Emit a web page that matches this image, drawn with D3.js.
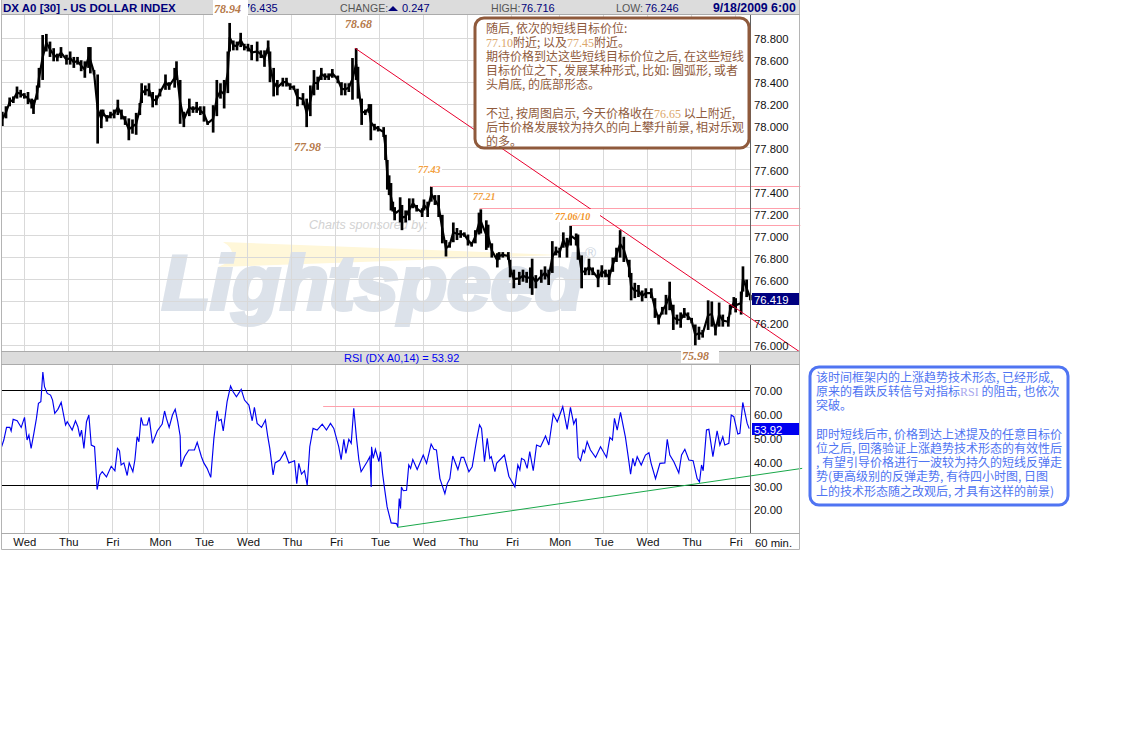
<!DOCTYPE html>
<html><head><meta charset="utf-8">
<script src="https://cdn.jsdelivr.net/npm/d3@7/dist/d3.min.js"></script>
<style>
html,body{margin:0;padding:0;background:#fff}
svg{display:block;font-family:"Liberation Sans",Arial,sans-serif}
</style></head><body><svg id="c" width="1131" height="738"></svg>
<script>
// ---------- DATA ----------
const barHours=[1,3,5,7,9,11,13,15,17,18,20,21,23,25,27,29,31,33,36,38,40,42,44,46,48,49,51,53,55,56,58,60,62,64,66,68,70,72,74,76,77,79,81,83,85,87,90,92,95,96,98,100,103,105,107,109,111,113,116,118,120,122,124,125,127,129,131,133,135,137,140,142,144,146,147,149,151,154,156,158,160,162,165,167,169,171,173,175,177,179,181,184,186,188,190,192,194,195,197,199,201,202,204,206,209,210,211,212,213,214,215,218,219,221,223,225,227,230,231,233,235,237,239,241,243,245,247,249,251,253,255,257,259,261,262,265,266,268,271,272,274,277,278,280,283,285,287,289,290,292,295,297,299,301,303,305,307,309,311,314,315,317,319,321,323,326,328,330,332,334,336,338,340,343,344,346,348,350,352,355,357,359,361,363,365,367,369,371,373,375,377,379,381,383,386,388,390,392,394,397,398,400,401,404,405,407,409];
const barHigh=[78.13,78.18,78.26,78.27,78.36,78.33,78.30,78.31,78.25,78.24,78.37,78.53,78.83,78.84,78.77,78.71,78.66,78.72,78.65,78.68,78.63,78.63,78.60,78.59,78.72,78.72,78.51,78.47,78.15,78.15,78.10,78.13,78.15,78.24,78.15,78.09,78.07,78.06,78.12,78.21,78.39,78.37,78.39,78.31,78.28,78.34,78.47,78.40,78.53,78.59,78.42,78.13,78.25,78.18,78.22,78.18,78.18,78.04,78.19,78.42,78.39,78.42,78.68,78.94,78.78,78.77,78.85,78.75,78.75,78.74,78.77,78.69,78.69,78.78,78.68,78.53,78.42,78.44,78.44,78.39,78.37,78.34,78.30,78.25,78.37,78.51,78.45,78.53,78.48,78.48,78.52,78.46,78.40,78.39,78.39,78.62,78.71,78.54,78.25,78.15,78.20,78.20,78.02,78.00,77.99,77.92,77.69,77.55,77.48,77.31,77.26,77.35,77.28,77.23,77.34,77.34,77.28,77.25,77.33,77.31,77.45,77.37,77.37,77.19,76.96,76.94,77.12,77.07,77.05,77.03,77.01,76.94,77.05,77.21,77.24,77.14,77.10,76.93,76.84,76.85,76.85,76.85,76.78,76.69,76.67,76.69,76.67,76.71,76.79,76.64,76.69,76.72,76.69,76.95,76.90,76.89,77.03,76.98,77.09,77.02,77.01,76.82,76.71,76.79,76.71,76.69,76.73,76.69,76.69,76.80,76.89,77.05,76.99,76.78,76.66,76.57,76.55,76.50,76.52,76.52,76.43,76.28,76.35,76.46,76.58,76.37,76.28,76.30,76.34,76.30,76.25,76.19,76.17,76.14,76.41,76.40,76.19,76.39,76.28,76.26,76.37,76.44,76.43,76.49,76.72,76.60,76.46];
const barLow=[78.00,78.07,78.18,78.21,78.25,78.26,78.25,78.20,78.16,78.11,78.24,78.35,78.42,78.68,78.63,78.59,78.59,78.62,78.56,78.56,78.53,78.56,78.50,78.44,78.53,78.48,78.47,77.84,77.98,78.09,78.04,78.07,78.07,78.10,78.06,78.01,77.87,77.93,77.92,78.10,78.21,78.28,78.27,78.17,78.19,78.27,78.33,78.33,78.35,78.42,78.02,77.99,78.09,78.12,78.12,78.10,78.04,78.01,77.94,78.09,78.25,78.16,78.30,78.68,78.69,78.69,78.72,78.69,78.68,78.60,78.59,78.62,78.54,78.66,78.40,78.27,78.28,78.36,78.36,78.33,78.33,78.18,78.19,77.99,78.09,78.28,78.33,78.42,78.42,78.42,78.44,78.39,78.28,78.28,78.31,78.24,78.42,78.25,78.01,78.10,78.12,77.87,77.96,77.95,77.90,77.69,77.42,77.37,77.23,77.22,77.14,77.12,77.05,77.12,77.14,77.25,77.22,77.17,77.23,77.17,77.31,77.28,77.17,76.93,76.81,76.89,76.94,76.96,76.98,76.99,76.91,76.90,76.93,77.01,77.02,76.87,76.89,76.80,76.71,76.78,76.80,76.78,76.62,76.52,76.55,76.58,76.57,76.52,76.46,76.52,76.57,76.60,76.55,76.66,76.82,76.80,76.89,76.80,76.91,76.91,76.78,76.52,76.64,76.64,76.64,76.53,76.62,76.62,76.55,76.67,76.76,76.80,76.76,76.62,76.41,76.43,76.44,76.40,76.43,76.43,76.25,76.19,76.28,76.28,76.32,76.14,76.19,76.16,76.25,76.23,76.20,76.00,76.05,76.07,76.14,76.17,76.09,76.17,76.17,76.17,76.28,76.34,76.30,76.28,76.49,76.44,76.41];

const rsiHours=[0.5,1.8,3.3,5.1,5.8,6.9,9.1,11.3,13.1,14.5,15.5,16.7,18.2,19.6,20.7,22.0,23.1,24.0,25.5,27.3,28.4,29.6,31.3,33.1,35.5,36.4,37.8,39.1,40.9,42.2,43.3,44.2,45.5,46.9,48.2,49.5,51.3,52.4,52.7,54.2,55.5,57.8,60.4,62.4,63.8,64.9,65.8,67.3,69.1,70.2,72.2,73.3,74.5,75.5,76.7,77.8,80.0,81.1,82.9,85.5,88.2,89.5,90.5,92.0,93.8,95.3,96.7,98.0,98.4,100.4,102.7,105.8,107.3,109.6,110.9,112.7,114.7,116.4,118.2,119.1,120.4,121.5,123.6,125.5,126.9,128.7,131.3,133.1,135.5,137.3,138.5,140.0,142.4,144.5,145.8,146.9,148.7,149.8,152.4,155.1,157.3,160.4,161.6,162.7,164.2,165.8,167.3,168.7,170.5,172.7,175.5,177.8,180.0,181.8,184.5,185.8,187.3,188.4,190.0,191.3,192.7,194.2,195.5,196.7,200.0,201.5,202.2,202.4,203.3,204.5,206.4,207.3,208.4,209.5,210.9,213.1,216.0,216.7,217.5,218.2,218.7,219.7,221.5,222.7,223.7,224.9,227.3,230.6,232.4,234.9,236.4,237.8,239.7,242.4,243.7,245.1,246.7,249.5,251.3,252.7,255.5,257.3,259.7,261.3,262.4,264.0,265.5,266.9,267.7,269.7,270.6,274.9,277.3,280.6,282.2,283.3,284.2,285.8,287.3,288.7,290.6,292.4,294.6,297.3,299.1,301.5,303.7,306.7,309.1,310.9,312.7,314.0,315.1,316.4,317.8,318.6,320.0,321.8,324.6,327.3,330.6,332.4,333.8,334.9,336.4,338.2,340.9,342.4,343.7,344.9,346.0,347.3,349.5,351.8,353.7,354.9,357.3,359.7,362.4,363.7,365.1,367.3,370.0,371.5,373.3,375.5,377.8,380.0,381.3,382.4,383.3,385.1,386.4,388.6,390.9,392.4,394.0,395.1,397.3,398.6,400.0,402.2,403.3,404.9,407.3,408.4];
const rsiValues=[46.0,49.1,54.4,54.4,52.9,57.8,57.2,54.4,58.6,49.1,51.2,45.6,51.9,58.2,64.5,65.2,77.7,71.5,68.7,68.0,65.9,60.3,62.0,64.9,55.4,56.8,55.0,53.3,57.2,54.7,50.5,53.3,45.6,56.8,59.6,47.0,46.3,32.9,28.3,34.4,35.8,33.6,38.1,36.2,45.6,44.6,38.6,39.5,34.2,39.5,35.8,40.7,50.5,48.4,58.6,55.4,55.4,58.6,47.7,52.9,55.8,61.3,58.2,54.4,59.6,62.0,56.8,50.8,37.9,42.1,44.9,44.9,48.1,42.1,39.5,37.2,33.4,49.8,61.4,57.2,57.8,52.9,65.2,71.8,69.4,67.3,70.4,65.9,63.8,57.2,62.8,56.1,54.4,57.5,50.5,45.6,34.4,39.5,40.7,44.2,39.5,40.4,30.8,39.3,34.8,36.2,30.1,46.3,54.0,53.3,55.8,53.3,56.1,54.0,46.3,40.9,49.4,43.5,49.4,47.7,62.4,49.8,40.7,35.8,40.0,42.1,29.4,46.3,41.4,45.2,40.0,44.2,35.1,28.7,21.0,14.3,14.0,12.6,24.5,20.3,29.4,27.8,28.0,38.6,37.2,40.9,36.7,42.8,39.3,47.4,45.2,44.9,32.9,26.6,30.8,32.9,42.4,36.7,41.8,41.8,35.8,37.9,49.1,55.5,54.0,40.0,49.8,41.4,42.1,35.8,39.3,42.8,33.9,29.4,38.6,36.5,41.4,40.7,37.2,44.2,36.2,47.0,46.3,50.8,47.0,60.0,56.8,63.1,53.6,62.8,55.8,58.2,41.8,40.4,44.9,43.8,48.4,44.9,41.8,46.3,41.8,50.2,49.1,58.2,53.3,60.7,50.2,42.1,34.8,41.4,38.1,42.1,38.6,42.8,43.8,39.3,32.9,39.3,39.5,49.4,42.8,40.0,35.3,42.8,45.2,40.7,40.4,32.9,31.5,38.6,36.2,53.3,53.6,42.1,53.0,47.0,50.5,47.0,47.7,59.6,58.9,51.6,51.9,64.9,56.1,53.9];

const gridHours=[13,37,61,87,111,135,159,183,207,231,255,279,305,329,353,377,401];
const dayLabels=["Wed","Thu","Fri","Mon","Tue","Wed","Thu","Fri","Tue","Wed","Thu","Fri","Mon","Tue","Wed","Thu","Fri"];
const priceGrid=[78.8,78.6,78.4,78.2,78.0,77.8,77.6,77.4,77.2,77.0,76.8,76.6,76.4,76.2,76.0];
const priceLabels=[78.8,78.6,78.4,78.2,78.0,77.8,77.6,77.4,77.2,77.0,76.8,76.6,76.2,76.0];
const rsiTicks=[70,60,50,40,30,20];
const rsiHeavy=[70,30];

const trendHours=[193.4,436], trendPrice=[78.71,75.94];
const rsiTrendHours=[216.5,437.3], rsiTrendValues=[12.4,37.2];
const resistance=[{p:77.45,from:234.5},{p:77.25,from:261.3},{p:77.09,from:311}];
const rsiResist={v:63.3,from:176,to:409};
const lastPrice=76.419, lastRsi=53.92;

const box1Lines=[
 [["随后, 依次的短线目标价位:",0]],
 [["77.10",1],["附近; 以及",0],["77.45",1],["附近。",0]],
 [["期待价格到达这些短线目标价位之后, 在这些短线",0]],
 [["目标价位之下, 发展某种形式, 比如: 圆弧形, 或者",0]],
 [["头肩底, 的底部形态。",0]],
 [],
 [["不过, 按周图启示, 今天价格收在",0],["76.65",1],[" 以上附近,",0]],
 [["后市价格发展较为持久的向上攀升前景, 相对乐观",0]],
 [["的多。",0]]
];
const box2Lines=[
 [["该时间框架内的上涨趋势技术形态, 已经形成,",0]],
 [["原来的看跌反转信号对指标",0],["RSI",1],[" 的阻击, 也依次",0]],
 [["突破。",0]],
 [],
 [["即时短线后市, 价格到达上述提及的任意目标价",0]],
 [["位之后, 回落验证上涨趋势技术形态的有效性后",0]],
 [[", 有望引导价格进行一波较为持久的短线反弹走",0]],
 [["势(更高级别的反弹走势, 有待四小时图, 日图",0]],
 [["上的技术形态随之改观后, 才具有这样的前景)",0]]
];

// ---------- SCALES ----------
const svg=d3.select("#c");
const x=d3.scaleLinear().domain([0,409]).range([0.5,750.3]);
const yP=d3.scaleLinear().domain([78.8,76.0]).range([38.3,345.3]);
const yR=d3.scaleLinear().domain([70,20]).range([390.3,509.3]);
const snap=v=>Math.round(v-0.5)+0.5;

// ---------- FRAME BANDS ----------
svg.append("rect").attr("x",1).attr("y",0).attr("width",799).attr("height",14).attr("fill","#dcdcdc");
svg.append("rect").attr("x",1).attr("y",352).attr("width",799).attr("height",12).attr("fill","#dcdcdc");

// ---------- LOGO ----------
const logo=svg.append("g");
logo.append("path").attr("fill","#fff7d9").attr("d","M223,242 L560,255 L218,267 Q232,262 232,254 Q232,247 223,242 Z");
logo.append("text").attr("x",162).attr("y",309).attr("textLength",421).attr("lengthAdjust","spacingAndGlyphs")
  .attr("font-size",76).attr("font-weight",700).attr("font-style","italic").attr("fill","#dce2ea")
  .attr("stroke","#dce2ea").attr("stroke-width",4).text("Lightspeed");
logo.append("text").attr("x",585).attr("y",258).attr("font-size",15).attr("fill","#cdd5e0").text("®");
logo.append("text").attr("x",309).attr("y",229).attr("font-size",12.5).attr("font-style","italic").attr("fill","#d2d2d2").text("Charts sponsored by:");

// ---------- GRID ----------
const gridC="#d9d9d9";
const grid=svg.append("g").attr("stroke",gridC).attr("stroke-width",1);
grid.selectAll("line.p").data(priceGrid).join("line").attr("class","p").attr("x1",1).attr("x2",750)
  .attr("y1",d=>snap(yP(d))).attr("y2",d=>snap(yP(d)));
grid.selectAll("line.r").data(rsiTicks).join("line").attr("class","r").attr("x1",1).attr("x2",750)
  .attr("y1",d=>snap(yR(d))).attr("y2",d=>snap(yR(d)));
grid.selectAll("line.v").data(gridHours).join("line").attr("class","v").attr("x1",d=>snap(x(d))).attr("x2",d=>snap(x(d))).attr("y1",15).attr("y2",351);
grid.selectAll("line.w").data(gridHours).join("line").attr("class","w").attr("x1",d=>snap(x(d))).attr("x2",d=>snap(x(d))).attr("y1",365).attr("y2",533);

// ---------- PRICE BARS ----------
const bars=svg.append("g");
bars.selectAll("line").data(barHours).join("line")
  .attr("x1",d=>x(d)).attr("x2",d=>x(d))
  .attr("y1",(d,i)=>yP(barHigh[i])).attr("y2",(d,i)=>yP(barLow[i]))
  .attr("stroke","#000").attr("stroke-width",2.7);
const mid=d3.line().x(d=>x(d)).y((d,i)=>yP((barHigh[i]+barLow[i])/2));
bars.append("path").attr("d",mid(barHours)).attr("fill","none").attr("stroke","#000").attr("stroke-width",2.2);

// ---------- RESISTANCE + TREND ----------
svg.selectAll("line.res").data(resistance).join("line").attr("class","res")
  .attr("x1",d=>x(d.from)).attr("x2",x(436.3)).attr("y1",d=>snap(yP(d.p))).attr("y2",d=>snap(yP(d.p)))
  .attr("stroke","#ffa0ac").attr("stroke-width",1);
const trend=d3.line().x(d=>x(d)).y((d,i)=>yP(trendPrice[i]));
svg.append("path").attr("d",trend(trendHours)).attr("fill","none").attr("stroke","#e8002e").attr("stroke-width",1);

// ---------- RSI ----------
svg.append("line").attr("x1",x(rsiResist.from)).attr("x2",x(rsiResist.to)).attr("y1",snap(yR(rsiResist.v))).attr("y2",snap(yR(rsiResist.v))).attr("stroke","#ffa0ac");
svg.selectAll("line.heavy").data(rsiHeavy).join("line").attr("class","heavy").attr("x1",1).attr("x2",750)
  .attr("y1",d=>snap(yR(d))).attr("y2",d=>snap(yR(d))).attr("stroke","#000").attr("stroke-width",1.1);
const rsiLine=d3.line().x(d=>x(d)).y((d,i)=>yR(rsiValues[i]));
svg.append("path").attr("d",rsiLine(rsiHours)).attr("fill","none").attr("stroke","#0000f0").attr("stroke-width",1.15);
const rsiTrend=d3.line().x(d=>x(d)).y((d,i)=>yR(rsiTrendValues[i]));
svg.append("path").attr("d",rsiTrend(rsiTrendHours)).attr("fill","none").attr("stroke","#1aa84a").attr("stroke-width",1);

// ---------- FRAME LINES ----------
const fr=svg.append("g").attr("fill","none");
fr.append("path").attr("d","M1.5,0V549.5H799.5V0").attr("stroke","#b4b4b4");
fr.append("path").attr("d","M1,14.5H800M1,351.5H800M1,364.5H800M1,533.5H800").attr("stroke","#ababab");
fr.append("path").attr("d","M750.5,15V351M750.5,365V533").attr("stroke","#606060");

// ---------- AXES ----------
function styleAxis(g){g.select(".domain").remove();g.selectAll("line").remove();
  g.selectAll("text").attr("font-family","Liberation Sans").attr("font-size",11.3).attr("fill","#111");}
svg.append("g").attr("transform","translate(753,1)")
  .call(d3.axisRight(yP).tickValues(priceLabels).tickFormat(d3.format(".3f")).tickSize(0).tickPadding(1)).call(styleAxis);
svg.append("g").attr("transform","translate(753,1)")
  .call(d3.axisRight(yR).tickValues(rsiTicks).tickFormat(d3.format(".2f")).tickSize(0).tickPadding(1)).call(styleAxis);
const ab=d3.axisBottom(x).tickValues(gridHours).tickFormat((d,i)=>dayLabels[i]).tickSize(0).tickPadding(0);
svg.append("g").attr("transform","translate(0,538)").call(ab).call(styleAxis);
svg.append("text").attr("x",755).attr("y",547).attr("font-size",11.3).attr("fill","#111").text("60 min.");

// ---------- VALUE FLAGS ----------
function flag(val,fmt,fill,scale){
  const y=scale(val);
  svg.append("rect").attr("x",752).attr("y",Math.round(y)-6).attr("width",47).attr("height",12).attr("fill",fill);
  svg.append("text").attr("x",754).attr("y",Math.round(y)+4.5).attr("font-size",11.3).attr("fill","#fff").text(d3.format(fmt)(val));
}
flag(lastPrice,".3f","#000080",yP);
flag(lastRsi,".2f","#0000f0",yR);

// ---------- HEADER TEXT ----------
const head=[
 {x:3,t:"DX A0 [30] - US DOLLAR INDEX",c:"#00007a",w:700,s:11.5},
 {x:244,t:"76.435",c:"#00007a",s:11},
 {x:340,t:"CHANGE:",c:"#555",s:10.6},
 {x:402,t:"0.247",c:"#00007a",s:11},
 {x:491,t:"HIGH:",c:"#555",s:10.6},
 {x:521,t:"76.716",c:"#00007a",s:11},
 {x:616,t:"LOW:",c:"#555",s:10.6},
 {x:645,t:"76.246",c:"#00007a",s:11},
 {x:713,t:"9/18/2009 6:00",c:"#00007a",w:700,s:12.3}
];
svg.selectAll("text.h").data(head).join("text").attr("class","h").attr("x",d=>d.x).attr("y",12)
  .attr("font-size",d=>d.s).attr("font-weight",d=>d.w||400).attr("fill",d=>d.c).text(d=>d.t);
svg.append("path").attr("d","M388,11L393,6L398,11Z").attr("fill","#00007a");
svg.append("text").attr("x",344).attr("y",362).attr("font-size",11).attr("fill","#0000f0").text("RSI (DX A0,14) = "+d3.format(".2f")(lastRsi));

// ---------- PRICE NOTES ----------
const notes=[
 {t:"78.94",x:214,y:13,s:12,c:"#b5794a",bg:[213,0,35,16]},
 {t:"78.68",x:345,y:28,s:12,c:"#b5794a"},
 {t:"77.98",x:294,y:151,s:12,c:"#b5794a",bg:[292,140,32,14]},
 {t:"77.43",x:418,y:173,s:10,c:"#f2a040",bg:[416,165,26,11]},
 {t:"77.21",x:473,y:200,s:10,c:"#f2a040"},
 {t:"77.06/10",x:555,y:220,s:10,c:"#f2952a",bg:[553,209,47,13]},
 {t:"75.98",x:682,y:360,s:12,c:"#b5794a",bg:[681,350,38,13]}
];
notes.forEach(n=>{
  if(n.bg) svg.append("rect").attr("x",n.bg[0]).attr("y",n.bg[1]).attr("width",n.bg[2]).attr("height",n.bg[3]).attr("fill","#fff");
  svg.append("text").attr("x",n.x).attr("y",n.y).attr("font-size",n.s).style("font-family",'"Liberation Serif"')
    .attr("font-style","italic").attr("font-weight",700).attr("fill",n.c).text(n.t);
});

// ---------- TEXT BOXES ----------
function box(x0,y0,w,h,col,lines,tx,ty,hi){
  svg.append("rect").attr("x",x0).attr("y",y0).attr("width",w).attr("height",h).attr("rx",9)
    .attr("fill","#fff").attr("stroke",col).attr("stroke-width",3);
  lines.forEach((ln,i)=>{
    const t=svg.append("text").attr("x",tx).attr("y",ty+i*14.2).attr("font-size",12)
      .style("font-family",'"Noto Sans CJK SC"').attr("fill",col);
    ln.forEach(s=>t.append("tspan").attr("fill",s[1]?hi:col)
      .style("font-family",s[1]?'"Liberation Serif"':'"Noto Sans CJK SC"').text(s[0]));
  });
}
box(475,18,274,130,"#8f5a3c",box1Lines,486,32.5,"#dba66a");
box(810,367,258,138,"#4f74f2",box2Lines,816,382,"#a9a8ee");
</script></body></html>
